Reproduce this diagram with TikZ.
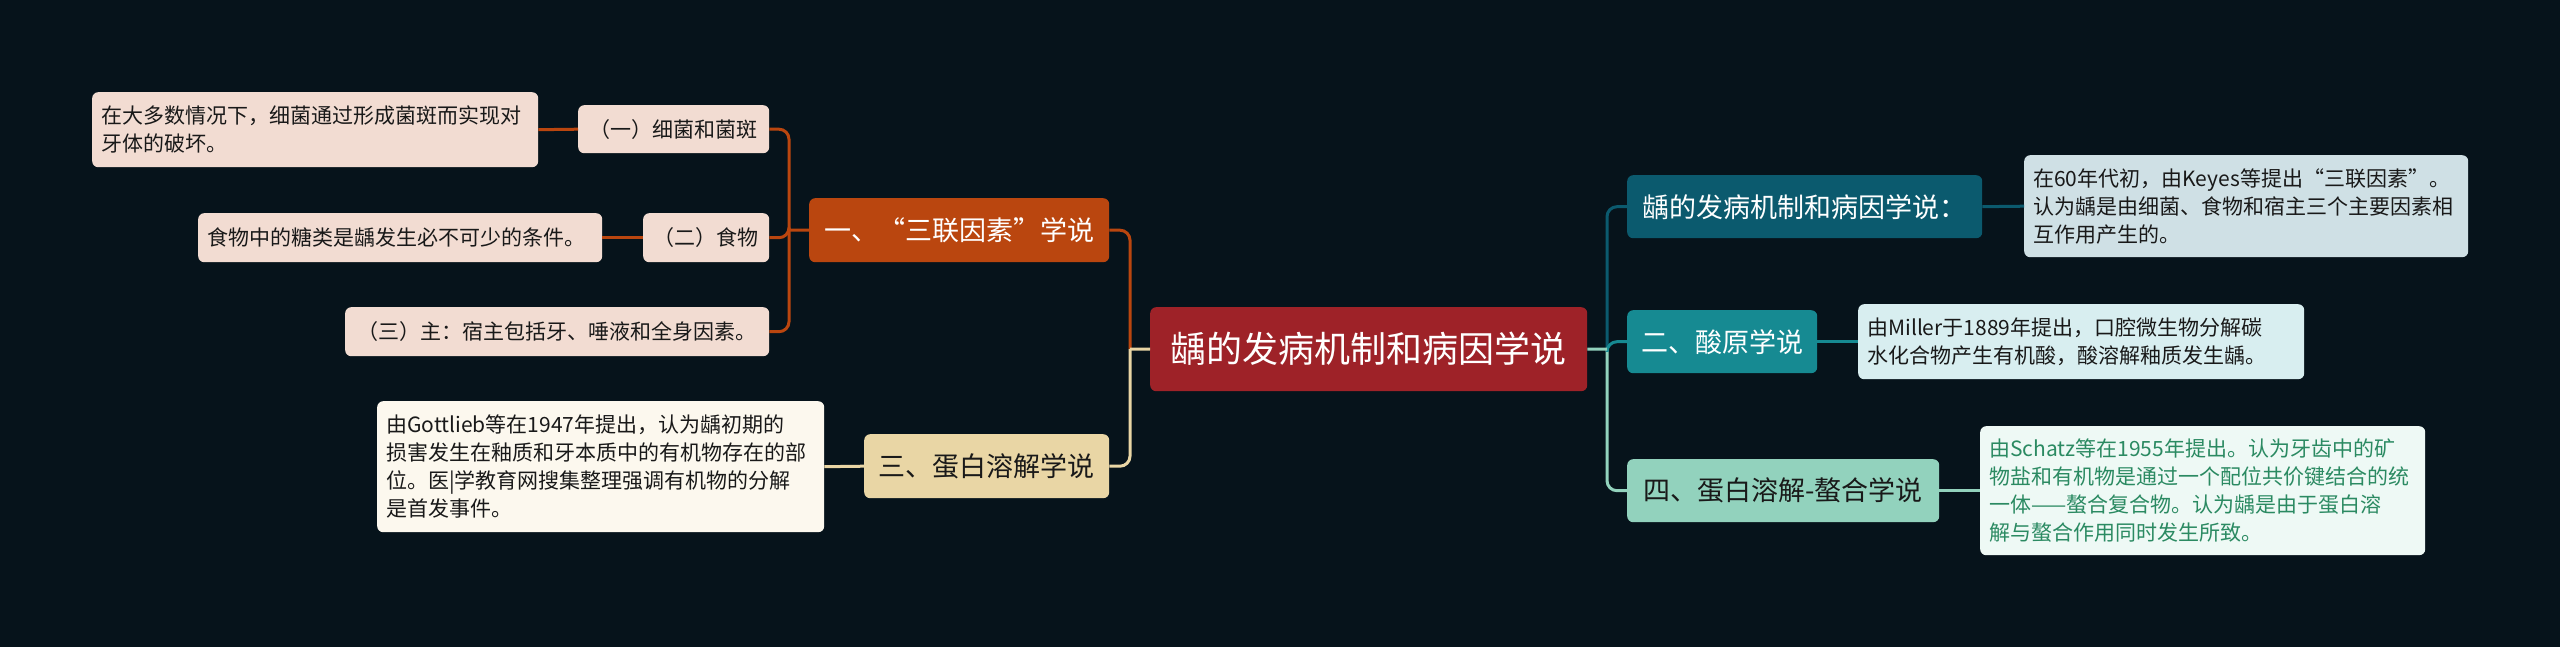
\documentclass[tikz,border=0pt]{standalone}
\usepackage{fontspec}
\setmainfont{Noto Sans CJK SC}
\definecolor{bgc}{HTML}{06131B}
\definecolor{rootc}{HTML}{9E2228}
\definecolor{onec}{HTML}{BA460F}
\definecolor{onel}{HTML}{F2DCD2}
\definecolor{threec}{HTML}{E9D6A5}
\definecolor{threel}{HTML}{FCF8EE}
\definecolor{rac}{HTML}{0B5A6E}
\definecolor{ral}{HTML}{CFE0E5}
\definecolor{rbc}{HTML}{168A92}
\definecolor{rbl}{HTML}{D8EEF0}
\definecolor{rcc}{HTML}{92D2BD}
\definecolor{rcl}{HTML}{EEF9F5}
\definecolor{rct}{HTML}{2B8A62}
\begin{document}
\begin{tikzpicture}[x=1pt,y=-1pt,
            box/.style={rounded corners=6pt, anchor=north west, inner xsep=9pt, inner ysep=0pt,
              text=black!90, font=\fontsize{21}{28}\selectfont},
            leaf/.style={box, align=left},
            branch/.style={box, font=\fontsize{27}{32}\selectfont},
            link/.style={line width=3pt, rounded corners=10pt}]
  \fill[bgc] (0,0) rectangle (2560,647);
  \node[box, fill=rootc, text=white, minimum width=437pt, minimum height=84pt,
        font=\fontsize{36}{40}\selectfont] (root) at (1150,307) {龋的发病机制和病因学说};
  \node[branch, fill=onec, text=white, minimum width=300pt, minimum height=64pt] (one) at (809,198) {一、“三联因素”学说};
  \node[box, fill=onel, minimum width=191pt, minimum height=48pt] (bact) at (578,105) {（一）细菌和菌斑};
  \node[leaf, fill=onel, text width=428pt, minimum height=75pt] (bactl) at (92,92)
    {在大多数情况下，细菌通过形成菌斑而实现对\\牙体的破坏。};
  \node[box, fill=onel, minimum width=126pt, minimum height=49pt] (food) at (643,213) {（二）食物};
  \node[leaf, fill=onel, text width=386pt, minimum height=49pt] (foodl) at (198,213)
    {食物中的糖类是龋发生必不可少的条件。};
  \node[box, fill=onel, minimum width=424pt, minimum height=49pt] (host) at (345,307) {（三）主：宿主包括牙、唾液和全身因素。};
  \node[branch, fill=threec, minimum width=245pt, minimum height=64pt] (three) at (864,434) {三、蛋白溶解学说};
  \node[leaf, fill=threel, text width=429pt, minimum height=131pt] (threel) at (377,401)
    {由Gottlieb等在1947年提出，认为龋初期的\\损害发生在釉质和牙本质中的有机物存在的部\\位。医|学教育网搜集整理强调有机物的分解\\是首发事件。};
  \node[branch, fill=rac, text=white, minimum width=355pt, minimum height=63pt] (ra) at (1627,175) {龋的发病机制和病因学说：};
  \node[leaf, fill=ral, text width=426pt, minimum height=102pt] (ral) at (2024,155)
    {在60年代初，由Keyes等提出“三联因素”。\\认为龋是由细菌、食物和宿主三个主要因素相\\互作用产生的。};
  \node[branch, fill=rbc, text=white, minimum width=190pt, minimum height=63pt] (rb) at (1627,310) {二、酸原学说};
  \node[leaf, fill=rbl, text width=428pt, minimum height=75pt] (rbl) at (1858,304)
    {由Miller于1889年提出，口腔微生物分解碳\\水化合物产生有机酸，酸溶解釉质发生龋。};
  \node[branch, fill=rcc, minimum width=312pt, minimum height=63pt] (rc) at (1627,459) {四、蛋白溶解-螯合学说};
  \node[leaf, fill=rcl, text=rct, text width=427pt, minimum height=129pt] (rcl) at (1980,426)
    {由Schatz等在1955年提出。认为牙齿中的矿\\物盐和有机物是通过一个配位共价键结合的统\\一体——螯合复合物。认为龋是由于蛋白溶\\解与螯合作用同时发生所致。};
  \coordinate (lj) at (1130,349);
  \coordinate (oj) at (789,230);
  \coordinate (rj) at (1607,349);
  \draw[link, onec] (lj) |- (one.east);
  \draw[link, threec] (lj) |- (three.east);
  \draw[link, threec] (root.west) -- (lj);
  \draw[link, onec] (one.west) -- (oj);
  \draw[link, onec] (oj) |- (bact.east);
  \draw[link, onec] (oj) |- (food.east);
  \draw[link, onec] (oj) |- (host.east);
  \draw[link, onec] (bact.west) -- (bactl.east);
  \draw[link, onec] (food.west) -- (foodl.east);
  \draw[link, threec] (three.west) -- (threel.east);
  \draw[link, rac] (rj) |- (ra.west);
  \draw[link, rcc] (rj) |- (rc.west);
  \draw[link, rbc] (rj) |- (rb.west);
  \draw[link, rcc] (root.east) -- (rj);
  \draw[link, rac] (ra.east) -- (ral.west);
  \draw[link, rbc] (rb.east) -- (rbl.west);
  \draw[link, rcc] (rc.east) -- (rcl.west);
\end{tikzpicture}
\end{document}
